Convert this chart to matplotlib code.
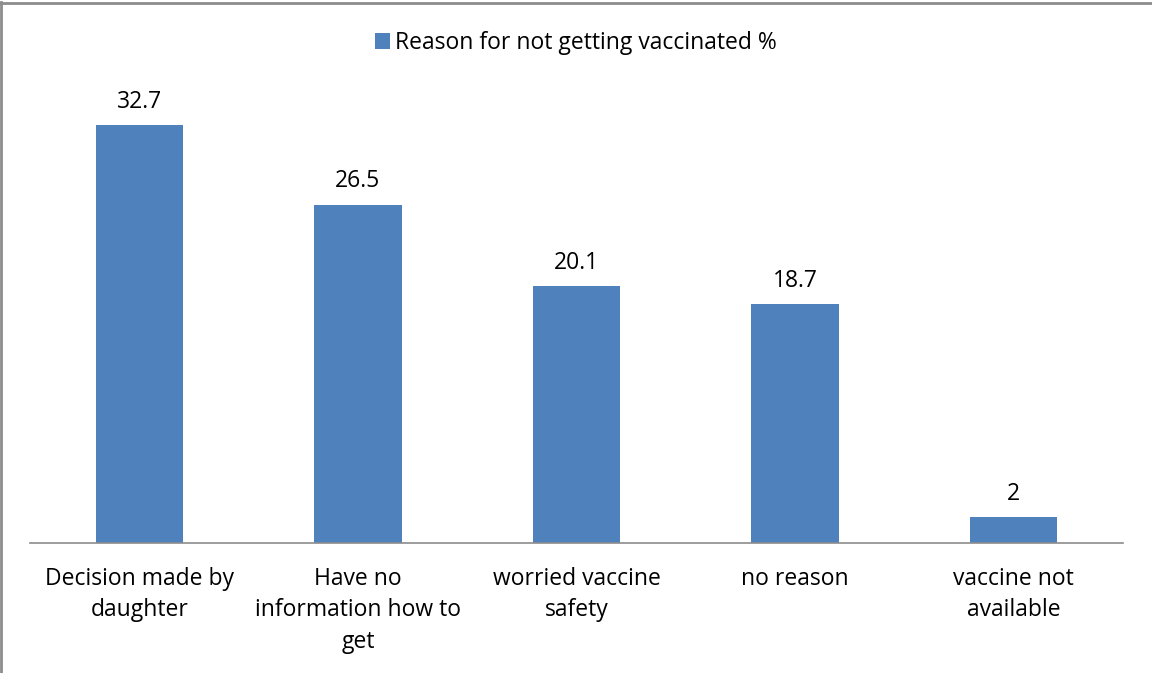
import matplotlib.pyplot as plt
from matplotlib.lines import Line2D

categories = ['Decision made by\ndaughter', 'Have no\ninformation how to\nget',
              'worried vaccine\nsafety', 'no reason', 'vaccine not\navailable']
values = [32.7, 26.5, 20.1, 18.7, 2]
value_labels = ['32.7', '26.5', '20.1', '18.7', '2']
series_name = 'Reason for not getting vaccinated %'

plt.rcParams['font.family'] = ['Open Sans', 'DejaVu Sans']

fig = plt.figure(figsize=(11.52, 6.73), dpi=100)
ax = fig.add_axes([30/1152, 1 - 543/673, 1093/1152, 447/673])

x = range(len(categories))
bars = ax.bar(x, values, width=0.4, color='#4F81BD', label=series_name)
for b, lab in zip(bars, value_labels):
    ax.annotate(lab, (b.get_x() + b.get_width()/2, b.get_height()),
                xytext=(0, 8), textcoords='offset points',
                ha='center', va='bottom', fontsize=16.5, color='black')

ax.set_xlim(-0.5, 4.5)
ax.set_ylim(0, 35)
ax.set_xticks(list(x))
ax.set_xticklabels(categories, fontsize=16.5, linespacing=1.42, va='top')
ax.tick_params(axis='x', length=0, pad=17)
ax.set_yticks([])
for s in ['top', 'right', 'left']:
    ax.spines[s].set_visible(False)
ax.spines['bottom'].set_color('#8c8c8c')
ax.spines['bottom'].set_linewidth(1.2)

fig.legend(handles=[bars], labels=[series_name], loc='center',
           bbox_to_anchor=(0.5, 1 - 43/673), frameon=False, fontsize=16.5,
           handlelength=0.65, handleheight=0.65, handletextpad=0.25)

# chart frame (only top and left edges visible)
fig.add_artist(Line2D([0.001, 0.001], [0, 0.997], transform=fig.transFigure,
                      color='#8c8c8c', lw=2))
fig.add_artist(Line2D([0, 1], [0.996, 0.996], transform=fig.transFigure,
                      color='#8c8c8c', lw=2))

fig.savefig('out.png', dpi=100)
